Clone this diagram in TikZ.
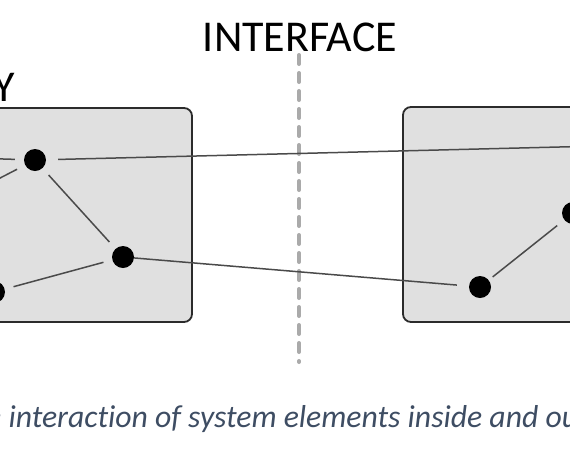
\documentclass[tikz,border=0pt]{standalone}
\usepackage{fontspec}
\setmainfont{Carlito}[Ligatures=NoCommon]
\definecolor{ifcBox}{HTML}{E0E0E0}
\definecolor{ifcEdge}{HTML}{2B2B2B}
\definecolor{ifcLink}{HTML}{4A4A4A}
\definecolor{ifcDash}{HTML}{AAAAAA}
\definecolor{ifcSlate}{HTML}{3E4D63}
\tikzset{
  ifc box/.style={draw=ifcEdge, fill=ifcBox, line width=1.8pt, rounded corners=8pt},
  ifc dot/.style={circle, fill=black, minimum size=22pt, inner sep=0pt},
  ifc link/.style={draw=ifcLink, line width=1.5pt, shorten <=9pt, shorten >=9pt},
  ifc divider/.style={draw=ifcDash, line width=4pt, line cap=round, dash pattern=on 9pt off 9pt},
  ifc title/.style={font=\fontsize{44}{50}\selectfont, text=black, inner sep=0pt},
  ifc caption/.style={font=\fontsize{31.7}{36}\selectfont\itshape, text=ifcSlate, inner sep=0pt},
}

\begin{document}
\begin{tikzpicture}[x=1pt, y=-1pt]
  \useasboundingbox (0,0) rectangle (570,467);
  \clip (0,0) rectangle (570,467);
  % ----- titles -----
  \node[ifc title, anchor=base] (interface) at (300,51) {INTERFACE};
  \node[ifc title, anchor=base east] (boundary) at (15,101) {Y};
  % ----- interface divider -----
  \coordinate (divTop) at (299,55);
  \coordinate (divBot) at (299,362);
  \draw[ifc divider] (divTop) -- (divBot);
  % ----- system box (left) and outside box (right) -----
  \draw[ifc box] (-40,108) rectangle (192,322);
  \draw[ifc box] (403,107) rectangle (620,322);
  % ----- elements -----
  \node[ifc dot] (inA) at (35,160) {};
  \node[ifc dot] (inB) at (123,257) {};
  \node[ifc dot] (inC) at (-6,292) {};
  \node[ifc dot] (outD) at (480,287) {};
  \node[ifc dot] (outE) at (573,213) {};
  % ends beyond the frame
  \coordinate (farL1) at (-60,157);
  \coordinate (farL2) at (-60,209);
  \coordinate (farR) at (640,145);
  % ----- interactions -----
  \draw[ifc link, shorten >=0pt] (inA) -- (farL1);
  \draw[ifc link, shorten >=0pt] (inA) -- (farL2);
  \draw[ifc link, shorten <=12pt, shorten >=0pt] (inA) -- (farR);
  \draw[ifc link] (inA) -- (inB);
  \draw[ifc link] (inB) -- (inC);
  \draw[ifc link, shorten <=0pt, shorten >=12pt] (inB) -- (outD);
  \draw[ifc link, shorten <=5pt] (outD) -- (outE);
  % ----- caption -----
  \node[ifc caption, anchor=base west] (caption) at (-14,427)
    {e interaction of system elements inside and ou};
\end{tikzpicture}
\end{document}
